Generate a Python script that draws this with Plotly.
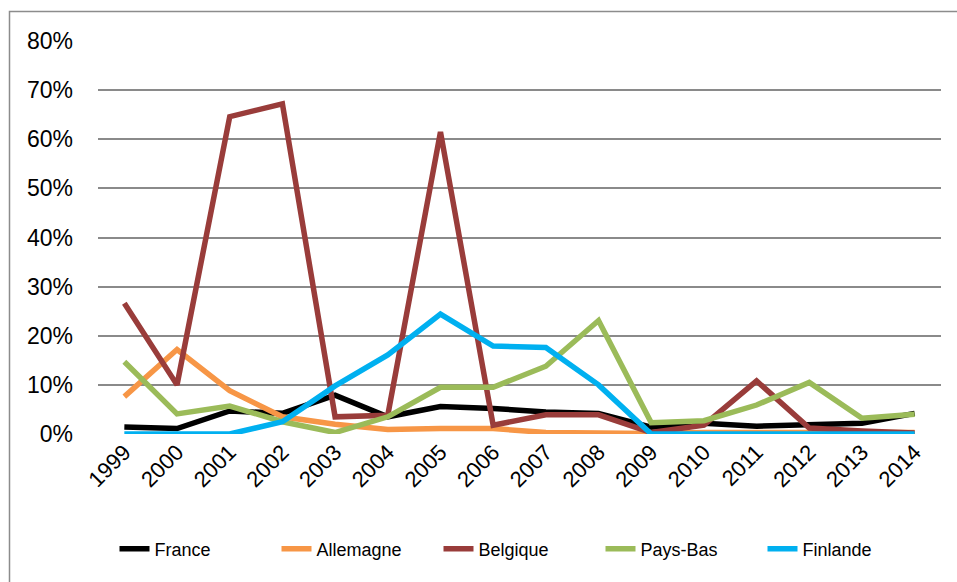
import plotly.graph_objects as go

years = ["1999", "2000", "2001", "2002", "2003", "2004", "2005", "2006",
         "2007", "2008", "2009", "2010", "2011", "2012", "2013", "2014"]

france = [1.4, 1.1, 4.7, 4.2, 7.9, 3.5, 5.6, 5.2, 4.5, 4.2, 1.4, 2.2, 1.6, 1.8, 2.2, 4.2]
allemagne = [7.6, 17.2, 8.8, 3.5, 2.0, 0.9, 1.1, 1.1, 0.3, 0.1, 0.1, 0.3, 0.3, 0.3, 0.3, 0.3]
belgique = [26.6, 10.0, 64.6, 67.2, 3.5, 3.8, 61.5, 1.8, 3.9, 3.9, 0.3, 1.8, 10.8, 1.2, 0.6, 0.2]
pays_bas = [14.7, 4.1, 5.7, 2.5, 0.3, 3.5, 9.5, 9.5, 13.8, 23.1, 2.3, 2.7, 5.9, 10.5, 3.2, 4.0]
finlande = [0.0, 0.0, 0.0, 2.5, 9.8, 16.1, 24.4, 17.9, 17.6, 10.0, 0.0, 0.0, 0.0, 0.0, 0.0, 0.0]

series = [
    ("France", france, "#000000"),
    ("Allemagne", allemagne, "#F79646"),
    ("Belgique", belgique, "#993C3A"),
    ("Pays-Bas", pays_bas, "#9BBB59"),
    ("Finlande", finlande, "#00B0F0"),
]

y_ticks = [0, 10, 20, 30, 40, 50, 60, 70, 80]
y_tick_labels = [f"{v}%" for v in y_ticks]

fig = go.Figure()
for name, vals, color in series:
    fig.add_trace(go.Scatter(
        x=years, y=[v / 100 for v in vals], name=name, mode="lines",
        line=dict(color=color, width=5.5, shape="linear"),
    ))

W, H = 957, 582
ml, mr, mt, mb = 98, W - 941, 41, H - 434
pw, ph = W - ml - mr, H - mt - mb

def px_x(p):
    return (p - ml) / pw

def px_y(p):
    return (H - mb - p) / ph

fig.update_layout(
    width=W, height=H,
    margin=dict(l=ml, r=mr, t=mt, b=mb, autoexpand=False),
    paper_bgcolor="white", plot_bgcolor="white",
    font=dict(family="Liberation Sans, Arial, sans-serif", color="#000000"),
    showlegend=True,
    legend=dict(orientation="h", x=0.5, xanchor="center", y=px_y(549), yanchor="middle",
                font=dict(size=18), entrywidth=117, entrywidthmode="pixels"),
    xaxis=dict(type="category", range=[-0.5, 15.5], tickangle=-45, tickfont=dict(size=22),
               showgrid=False, showline=False, ticks="", zeroline=False),
    yaxis=dict(range=[0, 0.8], tickvals=[v / 100 for v in y_ticks], ticktext=y_tick_labels,
               tickfont=dict(size=23), showgrid=True, gridcolor="#8A8A8A", gridwidth=1.5,
               zeroline=False, showline=False, ticks="", ticklabelstandoff=24),
    shapes=[dict(type="rect", xref="paper", yref="paper",
                 x0=px_x(9.5), x1=px_x(975), y0=px_y(600), y1=px_y(11.5),
                 line=dict(color="#8C8C8C", width=1.5), fillcolor="rgba(0,0,0,0)", layer="below")],
)

fig.write_html(
    "out.html",
    config={"displayModeBar": False},
    post_script="document.body.style.margin='0';document.body.style.overflow='hidden';",
)
